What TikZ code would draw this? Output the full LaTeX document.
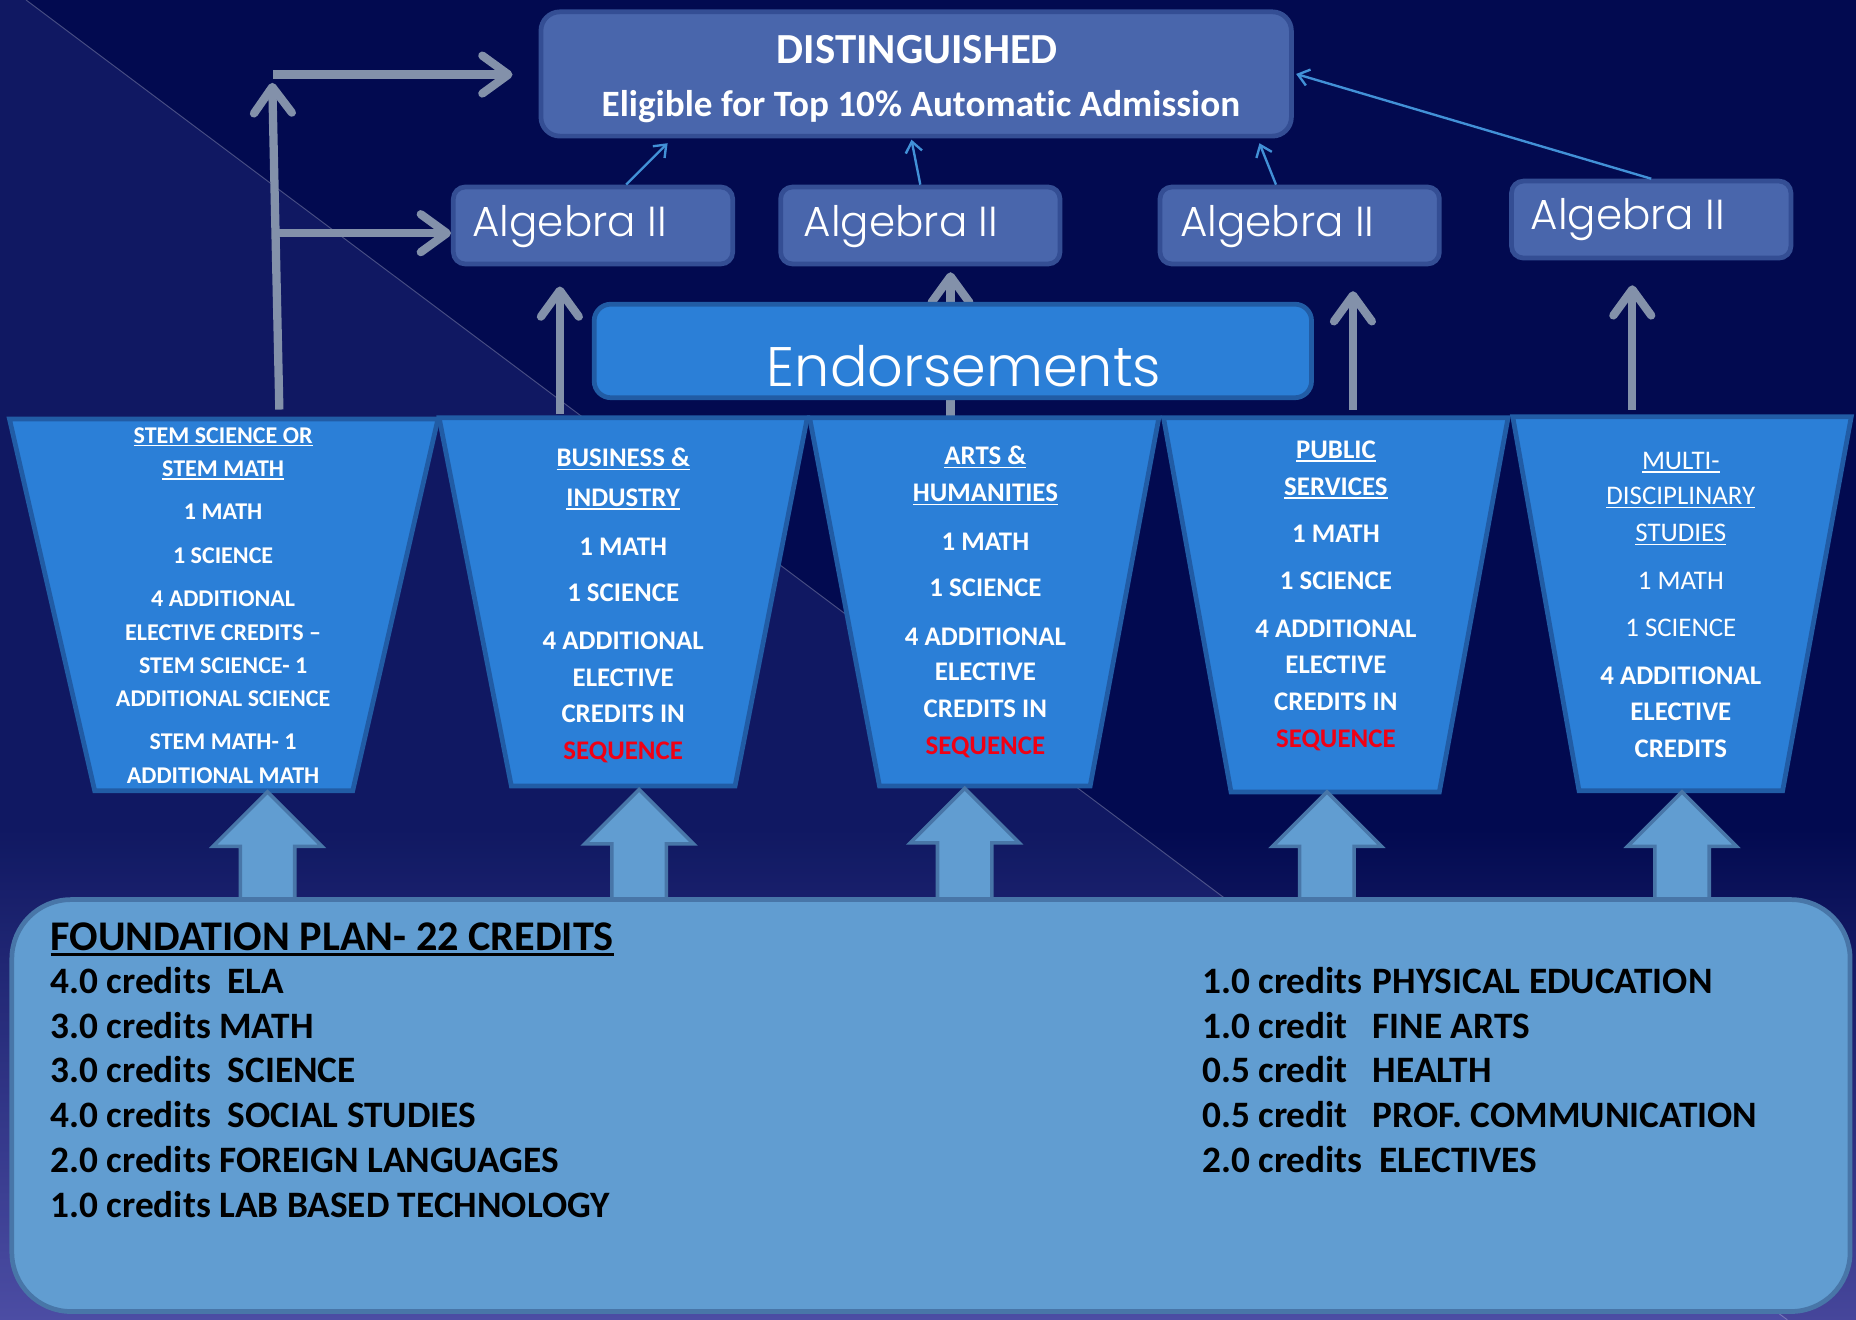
\documentclass[tikz,border=0pt]{standalone}
\usepackage{fontspec}
\setmainfont{Carlito}[Ligatures=NoCommon]
\newfontfamily\thinfont{Poppins Light}
\usetikzlibrary{arrows.meta}

\definecolor{navy}{RGB}{2,10,80}
\definecolor{navylight}{RGB}{120,130,230}
\definecolor{navybottom}{RGB}{70,70,155}
\definecolor{slatebox}{RGB}{73,102,172}
\definecolor{slateedge}{RGB}{52,78,148}
\definecolor{brightblue}{RGB}{43,127,215}
\definecolor{brightedge}{RGB}{33,92,165}
\definecolor{paleblue}{RGB}{97,157,209}
\definecolor{paleedge}{RGB}{72,118,168}
\definecolor{arrowgrey}{RGB}{131,145,170}
\definecolor{thinblue}{RGB}{66,145,215}
\definecolor{seqred}{RGB}{240,0,20}

\newcommand{\ulbox}[1]{\setbox0\hbox{#1}\rlap{\rule[-0.13em]{\wd0}{0.06em}}\box0}

\begin{document}
\begin{tikzpicture}
[x=1pt,y=-1pt,
  every node/.style={inner sep=0pt},
  plate/.style={draw=slateedge,line width=4pt,fill=slatebox,rounded corners=10pt},
  endbox/.style={draw=brightedge,line width=4pt,fill=brightblue,rounded corners=14pt},
  trap/.style={draw=brightedge,line width=4pt,fill=brightblue},
  blockup/.style={draw=paleedge,line width=3pt,fill=paleblue},
  basebox/.style={draw=paleedge,line width=4pt,fill=paleblue,rounded corners=50pt},
  greyline/.style={draw=arrowgrey,line width=7pt,-{Straight Barb[length=22pt,width=32pt,round]}},
  thinline/.style={draw=thinblue,line width=2pt,-{Straight Barb[length=9pt,width=14pt]}},
  wtext/.style={anchor=base,text=white},
  smallcap/.style={wtext,font=\fontsize{20.3}{24}\selectfont\bfseries},
  bigcap/.style={wtext,font=\fontsize{22.7}{27}\selectfont\bfseries},
  ftext/.style={anchor=base west,font=\fontsize{31.5}{36}\selectfont\bfseries}]
\useasboundingbox (0,0) rectangle (1568,1115);
% background
\fill[navy] (0,0) rectangle (1568,1115);
\shade[top color=navy,bottom color=navybottom] (0,700) rectangle (1568,1115);
\fill[navylight,fill opacity=0.12] (0,0) -- (22,0) -- (1510,1115) -- (0,1115) -- cycle;
\draw[white,opacity=0.25,line width=0.8pt] (22,0) -- (1510,1115);

% top boxes
\node[plate,rounded corners=16pt,minimum width=634pt,minimum height=105pt] (distin) at (774,62.5) {};
\node[plate,minimum width=236pt,minimum height=65pt] (alg1) at (501,190.5) {};
\node[plate,minimum width=236pt,minimum height=65pt] (alg2) at (777.5,190.5) {};
\node[plate,minimum width=236pt,minimum height=65pt] (alg3) at (1098,190.5) {};
\node[plate,minimum width=236pt,minimum height=65pt] (alg4) at (1395,185.5) {};
\node[wtext,font=\fontsize{36.2}{40}\selectfont\bfseries] (distintitle) at (775,53.5) {DISTINGUISHED};
\node[wtext,font=\fontsize{31.4}{34}\selectfont\bfseries] (distinsub) at (778,98.6) {Eligible for Top 10\% Automatic Admission};
\foreach \n/\xx/\yy in {1/399/200,2/679/200,3/997/200,4/1293/194}
  \node[anchor=base west,text=white,font=\fontsize{35.5}{40}\selectfont\thinfont] (algtext\n) at (\xx,\yy) {Algebra II};

% grey connectors
\coordinate (stemtop) at (236,346);
\coordinate (stemup) at (230,70);
\coordinate (forktop) at (231,63);
\coordinate (forkmid) at (232,197);
\coordinate (bustop) at (473,350);
\coordinate (artstop) at (803,352);
\coordinate (pubtop) at (1143,346);
\coordinate (multitop) at (1379,346);
\draw[greyline] (stemtop) -- (stemup);
\draw[greyline,shorten >=22pt] (forktop) -- (forktop -| distin.west);
\draw[greyline] (forkmid) -- (forkmid -| alg1.west);
\draw[greyline,shorten >=17pt] (bustop) -- (bustop |- alg1.south);
\draw[greyline,shorten >=5pt] (artstop) -- (artstop |- alg2.south);
\draw[greyline,shorten >=21pt] (pubtop) -- (pubtop |- alg3.south);
\draw[greyline,shorten >=21pt] (multitop) -- (multitop |- alg4.south);

% thin connectors
\draw[thinline] ([xshift=28pt]alg1.north) -- ([xshift=109pt,yshift=-4pt]distin.south west);
\draw[thinline] (alg2.north) -- ([xshift=-4pt,yshift=-1pt]distin.south);
\draw[thinline] ([xshift=-20pt]alg3.north) -- ([xshift=609pt,yshift=-4pt]distin.south west);
\draw[thinline] (alg4.north) -- ([xshift=2pt]distin.east);

% endorsements
\node[endbox,minimum width=606pt,minimum height=79pt] (endorse) at (805,296.5) {};
\node[wtext,font=\fontsize{47}{52}\selectfont\thinfont] (endorsetext) at (814.5,326.7) {Endorsements};

% trapezoids
\draw[trap] (8,354) -- (370,354) -- (298,668) -- (80,668) -- cycle;
\draw[trap] (371,353) -- (682,353) -- (621,664) -- (432,664) -- cycle;
\draw[trap] (684,353) -- (979,353) -- (921,664) -- (743,664) -- cycle;
\draw[trap] (983,353) -- (1274,353) -- (1216,669) -- (1040,669) -- cycle;
\draw[trap] (1278,352) -- (1564,352) -- (1506,668) -- (1334,668) -- cycle;

\foreach \yy/\txt [count=\i] in {374.5/{\ulbox{STEM SCIENCE OR}},402.7/{\ulbox{STEM MATH}},
    439.3/1 MATH,476/1 SCIENCE,512.5/4 ADDITIONAL,540.7/ELECTIVE CREDITS –,
    568.8/STEM SCIENCE- 1,597/ADDITIONAL SCIENCE,633.6/STEM MATH- 1,661.7/ADDITIONAL MATH}
  \node[smallcap] (stem\i) at (188.5,\yy) {\txt};
\foreach \yy/\txt [count=\i] in {394.3/{\ulbox{BUSINESS \&}},427.5/{\ulbox{INDUSTRY}},
    468.9/1 MATH,508.3/1 SCIENCE,548.6/4 ADDITIONAL,580/ELECTIVE,610.5/CREDITS IN,
    641.5/{\color{seqred}SEQUENCE}}
  \node[bigcap] (bus\i) at (526.5,\yy) {\txt};
\foreach \yy/\txt [count=\i] in {392.8/{\ulbox{ARTS \&}},423.8/{\ulbox{HUMANITIES}},
    464.7/1 MATH,504/1 SCIENCE,545/4 ADDITIONAL,575/ELECTIVE,606/CREDITS IN,
    637.8/{\color{seqred}SEQUENCE}}
  \node[bigcap] (arts\i) at (832.5,\yy) {\txt};
\foreach \yy/\txt [count=\i] in {387.2/{\ulbox{PUBLIC}},418.2/{\ulbox{SERVICES}},
    458.5/1 MATH,498.4/1 SCIENCE,538.4/4 ADDITIONAL,569.4/ELECTIVE,600.4/CREDITS IN,
    631.3/{\color{seqred}SEQUENCE}}
  \node[bigcap] (pub\i) at (1128.6,\yy) {\txt};
\foreach \yy/\txt [count=\i] in {396.5/{\mdseries\ulbox{MULTI-}},426.6/{\mdseries\ulbox{DISCIPLINARY}},
    457.6/{\mdseries\ulbox{STUDIES}},498.4/{\mdseries 1 MATH},537.9/{\mdseries 1 SCIENCE},
    578.7/4 ADDITIONAL,608.8/ELECTIVE,639.8/CREDITS}
  \node[bigcap] (multi\i) at (1420,\yy) {\txt};

% block arrows up from the foundation
\foreach \xx/\yy in {226/669,540/667,815/666,1121/669,1421/669}
  \draw[blockup] (\xx,\yy) -- ++(46,46) -- ++(-23,0) -- ++(0,50) -- ++(-46,0) -- ++(0,-50) -- ++(-23,0) -- cycle;

% foundation plan
\node[basebox,minimum width=1553pt,minimum height=348pt] (foundation) at (786.5,934) {};
\node[ftext,font=\fontsize{35.7}{40}\selectfont\bfseries] (fhead) at (42.5,802.6) {\ulbox{FOUNDATION PLAN- 22 CREDITS}};
\foreach \txt [count=\i] in {4.0 credits\ \ ELA,3.0 credits MATH,3.0 credits\ \ SCIENCE,
    4.0 credits\ \ SOCIAL STUDIES,2.0 credits FOREIGN LANGUAGES,1.0 credits LAB BASED TECHNOLOGY}
  \node[ftext] (left\i) at (42.5,{801.3+37.85*\i}) {\txt};
\foreach \amt/\what [count=\i] in {1.0 credits/PHYSICAL EDUCATION,1.0 credit/FINE ARTS,
    0.5 credit/HEALTH,0.5 credit/PROF. COMMUNICATION,2.0 credits/\hspace{6pt}ELECTIVES}
  \node[ftext] (right\i) at (1015.5,{801.3+37.85*\i}) {\makebox[144pt][l]{\amt}\what};
\end{tikzpicture}
\end{document}
